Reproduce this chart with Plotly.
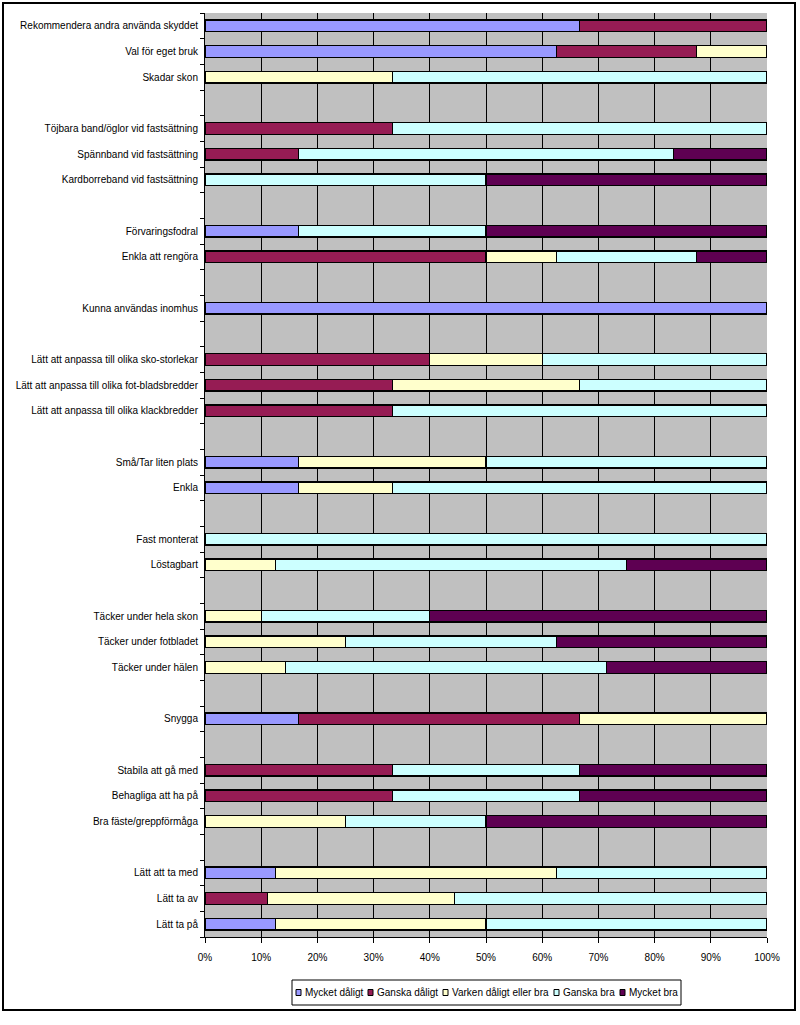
import plotly.graph_objects as go

categories = [
    "Rekommendera andra använda skyddet",
    "Val för eget bruk",
    "Skadar skon",
    "",
    "Töjbara band/öglor vid fastsättning",
    "Spännband vid fastsättning",
    "Kardborreband vid fastsättning",
    "",
    "Förvaringsfodral",
    "Enkla att rengöra",
    "",
    "Kunna användas inomhus",
    "",
    "Lätt att anpassa till olika sko-storlekar",
    "Lätt att anpassa till olika fot-bladsbredder",
    "Lätt att anpassa till olika klackbredder",
    "",
    "Små/Tar liten plats",
    "Enkla",
    "",
    "Fast monterat",
    "Löstagbart",
    "",
    "Täcker under hela skon",
    "Täcker under fotbladet",
    "Täcker under hälen",
    "",
    "Snygga",
    "",
    "Stabila att gå med",
    "Behagliga att ha på",
    "Bra fäste/greppförmåga",
    "",
    "Lätt att ta med",
    "Lätt ta av",
    "Lätt ta på",
]

mycket_daligt = [66.7, 62.5, 0, None, 0, 0, 0, None, 16.7, 0, None, 100, None,
                 0, 0, 0, None, 16.7, 16.7, None, 0, 0, None, 0, 0, 0, None,
                 16.7, None, 0, 0, 0, None, 12.5, 0, 12.5]
ganska_daligt = [33.3, 25, 0, None, 33.3, 16.7, 0, None, 0, 50, None, 0, None,
                 40, 33.3, 33.3, None, 0, 0, None, 0, 0, None, 0, 0, 0, None,
                 50, None, 33.3, 33.3, 0, None, 0, 11.1, 0]
varken = [0, 12.5, 33.3, None, 0, 0, 0, None, 0, 12.5, None, 0, None,
          20, 33.3, 0, None, 33.3, 16.7, None, 0, 12.5, None, 10, 25, 14.3, None,
          33.3, None, 0, 0, 25, None, 50, 33.3, 37.5]
ganska_bra = [0, 0, 66.7, None, 66.7, 66.6, 50, None, 33.3, 25, None, 0, None,
              40, 33.4, 66.7, None, 50, 66.6, None, 100, 62.5, None, 30, 37.5, 57.1, None,
              0, None, 33.3, 33.3, 25, None, 37.5, 55.6, 50]
mycket_bra = [0, 0, 0, None, 0, 16.7, 50, None, 50, 12.5, None, 0, None,
              0, 0, 0, None, 0, 0, None, 0, 25, None, 60, 37.5, 28.6, None,
              0, None, 33.4, 33.4, 50, None, 0, 0, 0]

series_names = ["Mycket dåligt", "Ganska dåligt", "Varken dåligt eller bra",
                "Ganska bra", "Mycket bra"]
series_values = [mycket_daligt, ganska_daligt, varken, ganska_bra, mycket_bra]
colors = ["#9999FF", "#961C54", "#FFFFCC", "#CCFFFF", "#5E0052"]

x_ticks = [0, 10, 20, 30, 40, 50, 60, 70, 80, 90, 100]
x_ticklabels = [f"{v}%" for v in x_ticks]

FONT = "Liberation Sans, Arial, sans-serif"

# pixel geometry of plot area
L, R, T, B = 205, 767, 13, 937
W, H = 800, 1025
PW, PH = R - L, B - T


def px(x):
    return (x - L) / PW


def py(y):
    return (B - y) / PH


positions = list(range(len(categories)))

fig = go.Figure()
for name, vals, col in zip(series_names, series_values, colors):
    fig.add_trace(go.Bar(
        y=positions, x=vals, name=name, orientation="h",
        marker=dict(color=col, line=dict(color="black", width=1.2)),
        width=0.45, showlegend=False,
    ))

fig.update_layout(
    barmode="stack",
    width=W, height=H,
    margin=dict(l=L, r=W - R, t=T, b=H - B, autoexpand=False),
    paper_bgcolor="white",
    plot_bgcolor="#C0C0C0",
    font=dict(family=FONT, size=10, color="black"),
    showlegend=False,
)

fig.update_xaxes(
    range=[0, 100], tickvals=x_ticks, ticktext=x_ticklabels,
    showgrid=True, gridcolor="black", gridwidth=1,
    ticks="outside", ticklen=5, tickcolor="black",
    showline=True, linecolor="black", linewidth=1,
    zeroline=False, fixedrange=True, automargin=False,
    ticklabelstandoff=6,
)
fig.update_yaxes(
    range=[len(categories) - 0.5, -0.5],
    tickvals=positions, ticktext=categories,
    ticks="", showgrid=False, zeroline=False,
    showline=True, linecolor="black", linewidth=1,
    ticklabelstandoff=4, automargin=False,
    minor=dict(tick0=0.5, dtick=1, ticks="outside", ticklen=4, tickcolor="black", showgrid=False),
)

# outer chart border
fig.add_shape(type="rect", xref="paper", yref="paper",
              x0=px(3), x1=px(795), y0=py(1010), y1=py(3),
              line=dict(color="black", width=2), fillcolor="rgba(0,0,0,0)", layer="below")

# legend (manual, compact like the original)
leg_left, leg_right, leg_top, leg_bot = 292, 681, 980, 1005
fig.add_shape(type="rect", xref="paper", yref="paper",
              x0=px(leg_left), x1=px(leg_right), y0=py(leg_bot), y1=py(leg_top),
              line=dict(color="black", width=1), fillcolor="white", layer="above")
square_x = [296, 368, 443, 554, 620]
cy = (leg_top + leg_bot) / 2
for sx, name, col in zip(square_x, series_names, colors):
    fig.add_shape(type="rect", xref="paper", yref="paper",
                  x0=px(sx), x1=px(sx + 5), y0=py(cy + 3), y1=py(cy - 3),
                  line=dict(color="black", width=1), fillcolor=col, layer="above")
    fig.add_annotation(xref="paper", yref="paper", x=px(sx + 7), y=py(cy),
                       text=name, showarrow=False, xanchor="left", yanchor="middle",
                       font=dict(family=FONT, size=10, color="black"))

fig.write_html("out.html", config={"displayModeBar": False},
               post_script="document.body.style.margin='0';")
